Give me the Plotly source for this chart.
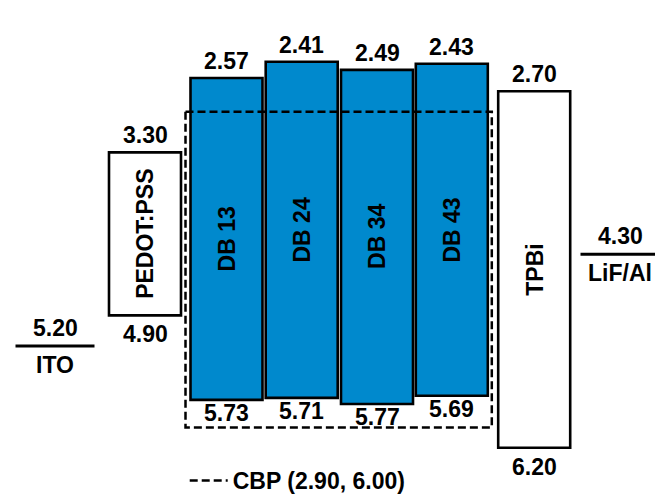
import plotly.graph_objects as go

# ---------------- data ----------------
materials = ["PEDOT:PSS", "DB 13", "DB 24", "DB 34", "DB 43", "TPBi"]
lumo = [3.30, 2.57, 2.41, 2.49, 2.43, 2.70]
homo = [4.90, 5.73, 5.71, 5.77, 5.69, 6.20]
emitters = ["DB 13", "DB 24", "DB 34", "DB 43"]

electrodes = ["ITO", "LiF/Al"]
work_function = [5.20, 4.30]

host_name = "CBP"
host_lumo = 2.90
host_homo = 6.00

# ---------------- layout / style ----------------
W, H = 655, 502
BLUE = "#0089CD"
FONT = dict(family="Liberation Sans, Arial, sans-serif", size=23, color="black", weight="bold")

# horizontal slot layout (x axis in pixel-like units)
x_center = {"ITO": 55, "PEDOT:PSS": 145, "DB 13": 226.5, "DB 24": 301.7,
            "DB 34": 377, "DB 43": 451.8, "TPBi": 534.2, "LiF/Al": 620}
bar_width = 72
electrode_width = 79

fig = go.Figure()

# layer bars (base = LUMO, length = gap)
fig.add_trace(go.Bar(
    x=[x_center[m] for m in materials],
    y=[h - l for h, l in zip(homo, lumo)],
    base=lumo,
    width=bar_width,
    marker=dict(color=[BLUE if m in emitters else "white" for m in materials],
                line=dict(color="black", width=2.6)),
    showlegend=False, hoverinfo="skip",
))

# host (CBP) dashed box around the emitters
left = x_center[emitters[0]] - bar_width / 2 - 5
right = x_center[emitters[-1]] + bar_width / 2 + 4
fig.add_trace(go.Scatter(
    x=[left, right, right, left, left],
    y=[host_lumo, host_lumo, host_homo, host_homo, host_lumo],
    mode="lines",
    line=dict(color="black", width=2.5, dash="8px,4px"),
    name=f"{host_name} ({host_lumo:.2f}, {host_homo:.2f})",
    showlegend=True, hoverinfo="skip",
))

# electrodes
for name, wf in zip(electrodes, work_function):
    c = x_center[name]
    fig.add_trace(go.Scatter(
        x=[c - electrode_width / 2, c + electrode_width / 2], y=[wf, wf],
        mode="lines", line=dict(color="black", width=3),
        showlegend=False, hoverinfo="skip", cliponaxis=False,
    ))
    fig.add_annotation(x=c, y=wf, text=f"{wf:.2f}", showarrow=False,
                       yanchor="middle", yshift=18, font=FONT)
    fig.add_annotation(x=c, y=wf, text=name, showarrow=False,
                       yanchor="middle", yshift=-19, font=FONT)

# value labels and layer names
for m, l, h in zip(materials, lumo, homo):
    c = x_center[m]
    below = 13 if m in emitters else 19
    fig.add_annotation(x=c, y=l, text=f"{l:.2f}", showarrow=False,
                       yanchor="middle", yshift=17, font=FONT)
    fig.add_annotation(x=c, y=h, text=f"{h:.2f}", showarrow=False,
                       yanchor="middle", yshift=-below, font=FONT)
    fig.add_annotation(x=c, y=(l + h) / 2, text=m, showarrow=False,
                       textangle=-90, font=FONT)

fig.update_layout(
    width=W, height=H,
    margin=dict(l=0, r=0, t=0, b=0),
    paper_bgcolor="white", plot_bgcolor="white",
    barmode="overlay",
    xaxis=dict(range=[0, W], visible=False, fixedrange=True),
    yaxis=dict(range=[6.654, 1.804], visible=False, fixedrange=True),
    legend=dict(x=0.282, y=0.027, xanchor="left", yanchor="middle",
                font=FONT, bgcolor="rgba(0,0,0,0)", itemwidth=38),
    hovermode=False,
)

fig.write_html(
    "out.html",
    config={"displayModeBar": False},
    post_script="document.body.style.margin='0';document.body.style.overflow='hidden';",
)
